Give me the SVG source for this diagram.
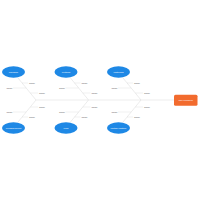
<svg xmlns="http://www.w3.org/2000/svg" width="200" height="200" viewBox="0 0 200 200">
<style>
.bone{stroke:#d9d9d9;stroke-width:0.5;fill:none}
.sub{stroke:#d9d9d9;stroke-width:0.35;fill:none}
.cat{fill:#1e88e5}
.cl{font-family:"Liberation Sans",Arial,sans-serif;font-size:2.5px;fill:#ffffff;text-anchor:middle;dominant-baseline:central}
.cz{font-family:"Liberation Sans",Arial,sans-serif;font-size:2.1px;fill:#555555;dominant-baseline:central}
.head{fill:#f26b2e}
</style>
<rect width="200" height="200" fill="#ffffff"/>
<g id="connectors">
<line class="bone" x1="36" y1="100" x2="174" y2="100"/>
<g id="bones-top">
<line class="bone" x1="18" y1="78" x2="36" y2="100"/>
<line class="bone" x1="70.5" y1="78" x2="88.5" y2="100"/>
<line class="bone" x1="123" y1="78" x2="141" y2="100"/>
</g>
<g id="bones-bottom">
<line class="bone" x1="18" y1="122" x2="36" y2="100"/>
<line class="bone" x1="70.5" y1="122" x2="88.5" y2="100"/>
<line class="bone" x1="123" y1="122" x2="141" y2="100"/>
</g>
</g>
<g id="causes">
<g id="causes-1">
<line class="sub" x1="22" y1="83" x2="28" y2="83"/><text class="cz" x="29" y="83">Cause</text>
<line class="sub" x1="13" y1="88" x2="26.2" y2="88"/><text class="cz" x="12.5" y="88" text-anchor="end">Cause</text>
<line class="sub" x1="30.3" y1="93" x2="38" y2="93"/><text class="cz" x="39" y="93">Cause</text>
<line class="sub" x1="30.3" y1="107" x2="38" y2="107"/><text class="cz" x="39" y="107">Cause</text>
<line class="sub" x1="13" y1="112" x2="26.2" y2="112"/><text class="cz" x="12.5" y="112" text-anchor="end">Cause</text>
<line class="sub" x1="22" y1="117" x2="28" y2="117"/><text class="cz" x="29" y="117">Cause</text>
</g>
<g id="causes-2" transform="translate(52.5,0)">
<line class="sub" x1="22" y1="83" x2="28" y2="83"/><text class="cz" x="29" y="83">Cause</text>
<line class="sub" x1="13" y1="88" x2="26.2" y2="88"/><text class="cz" x="12.5" y="88" text-anchor="end">Cause</text>
<line class="sub" x1="30.3" y1="93" x2="38" y2="93"/><text class="cz" x="39" y="93">Cause</text>
<line class="sub" x1="30.3" y1="107" x2="38" y2="107"/><text class="cz" x="39" y="107">Cause</text>
<line class="sub" x1="13" y1="112" x2="26.2" y2="112"/><text class="cz" x="12.5" y="112" text-anchor="end">Cause</text>
<line class="sub" x1="22" y1="117" x2="28" y2="117"/><text class="cz" x="29" y="117">Cause</text>
</g>
<g id="causes-3" transform="translate(105,0)">
<line class="sub" x1="22" y1="83" x2="28" y2="83"/><text class="cz" x="29" y="83">Cause</text>
<line class="sub" x1="13" y1="88" x2="26.2" y2="88"/><text class="cz" x="12.5" y="88" text-anchor="end">Cause</text>
<line class="sub" x1="30.3" y1="93" x2="38" y2="93"/><text class="cz" x="39" y="93">Cause</text>
<line class="sub" x1="30.3" y1="107" x2="38" y2="107"/><text class="cz" x="39" y="107">Cause</text>
<line class="sub" x1="13" y1="112" x2="26.2" y2="112"/><text class="cz" x="12.5" y="112" text-anchor="end">Cause</text>
<line class="sub" x1="22" y1="117" x2="28" y2="117"/><text class="cz" x="29" y="117">Cause</text>
</g>
</g>
<g id="machine"><ellipse class="cat" cx="13.5" cy="72" rx="11.5" ry="5.8"/><text class="cl" x="13.5" y="72">Machine</text></g>
<g id="method"><ellipse class="cat" cx="66" cy="72" rx="11.5" ry="5.8"/><text class="cl" x="66" y="72">Method</text></g>
<g id="materials"><ellipse class="cat" cx="118.5" cy="72" rx="11.5" ry="5.8"/><text class="cl" x="118.5" y="72">Materials</text></g>
<g id="measurement"><ellipse class="cat" cx="13.5" cy="128" rx="11.5" ry="5.8"/><text class="cl" x="13.5" y="128">Measurement</text></g>
<g id="man"><ellipse class="cat" cx="66" cy="128" rx="11.5" ry="5.8"/><text class="cl" x="66" y="128">Man</text></g>
<g id="mother-nature"><ellipse class="cat" cx="118.5" cy="128" rx="11.5" ry="5.8"/><text class="cl" x="118.5" y="128">Mother Nature</text></g>
<g id="problem"><rect class="head" x="174" y="94.7" width="23.5" height="11" rx="1.5"/><text class="cl" x="185.7" y="100.2">The Problem</text></g>
</svg>
